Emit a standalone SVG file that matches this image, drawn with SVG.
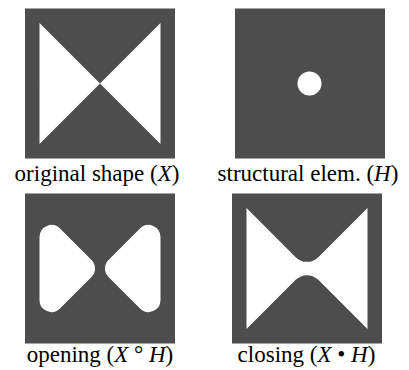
<svg xmlns="http://www.w3.org/2000/svg" width="409" height="370" viewBox="0 0 409 370">
<style>
.bg{fill:#4d4d4d}
.fg{fill:#ffffff}
.lbl{font-family:"Liberation Serif","Times New Roman",serif;font-size:23px;fill:#000;text-anchor:middle}
.it{font-style:italic}
</style>
<rect width="409" height="370" fill="#ffffff"/>
<g id="original" transform="translate(25,8.5)">
<rect class="bg" width="150" height="150"/>
<path class="fg" d="M14.5,14.5 L75,75 L14.5,135.5 Z M135.5,14.5 L135.5,135.5 L75,75 Z"/>
</g>
<g id="structural" transform="translate(235,8.5)">
<rect class="bg" width="150" height="150"/>
<circle class="fg" cx="74.5" cy="75" r="12"/>
</g>
<g id="opening" transform="translate(25,193.5)">
<rect class="bg" width="150" height="150"/>
<path class="fg" d="M14.5,43.47 A12,12 0 0 1 34.99,34.99 L66.51,66.51 A12,12 0 0 1 66.51,83.49 L34.99,115.01 A12,12 0 0 1 14.5,106.53 Z"/>
<path class="fg" d="M135.5,43.47 L135.5,106.53 A12,12 0 0 1 115.01,115.01 L83.49,83.49 A12,12 0 0 1 83.49,66.51 L115.01,34.99 A12,12 0 0 1 135.5,43.47 Z"/>
</g>
<g id="closing" transform="translate(232,193.5)">
<rect class="bg" width="150" height="150"/>
<path class="fg" d="M14.5,14.5 L63.69,63.69 A16,16 0 0 0 86.31,63.69 L135.5,14.5 L135.5,135.5 L86.31,86.31 A16,16 0 0 0 63.69,86.31 L14.5,135.5 Z"/>
</g>
<g id="labels">
<text class="lbl" x="97" y="180.5">original shape (<tspan class="it">X</tspan>)</text>
<text class="lbl" x="308" y="180.5">structural elem. (<tspan class="it">H</tspan>)</text>
<text class="lbl" x="100" y="362">opening (<tspan class="it">X</tspan> ° <tspan class="it">H</tspan>)</text>
<text class="lbl" x="306.5" y="362">closing (<tspan class="it">X</tspan> • <tspan class="it">H</tspan>)</text>
</g>
</svg>
